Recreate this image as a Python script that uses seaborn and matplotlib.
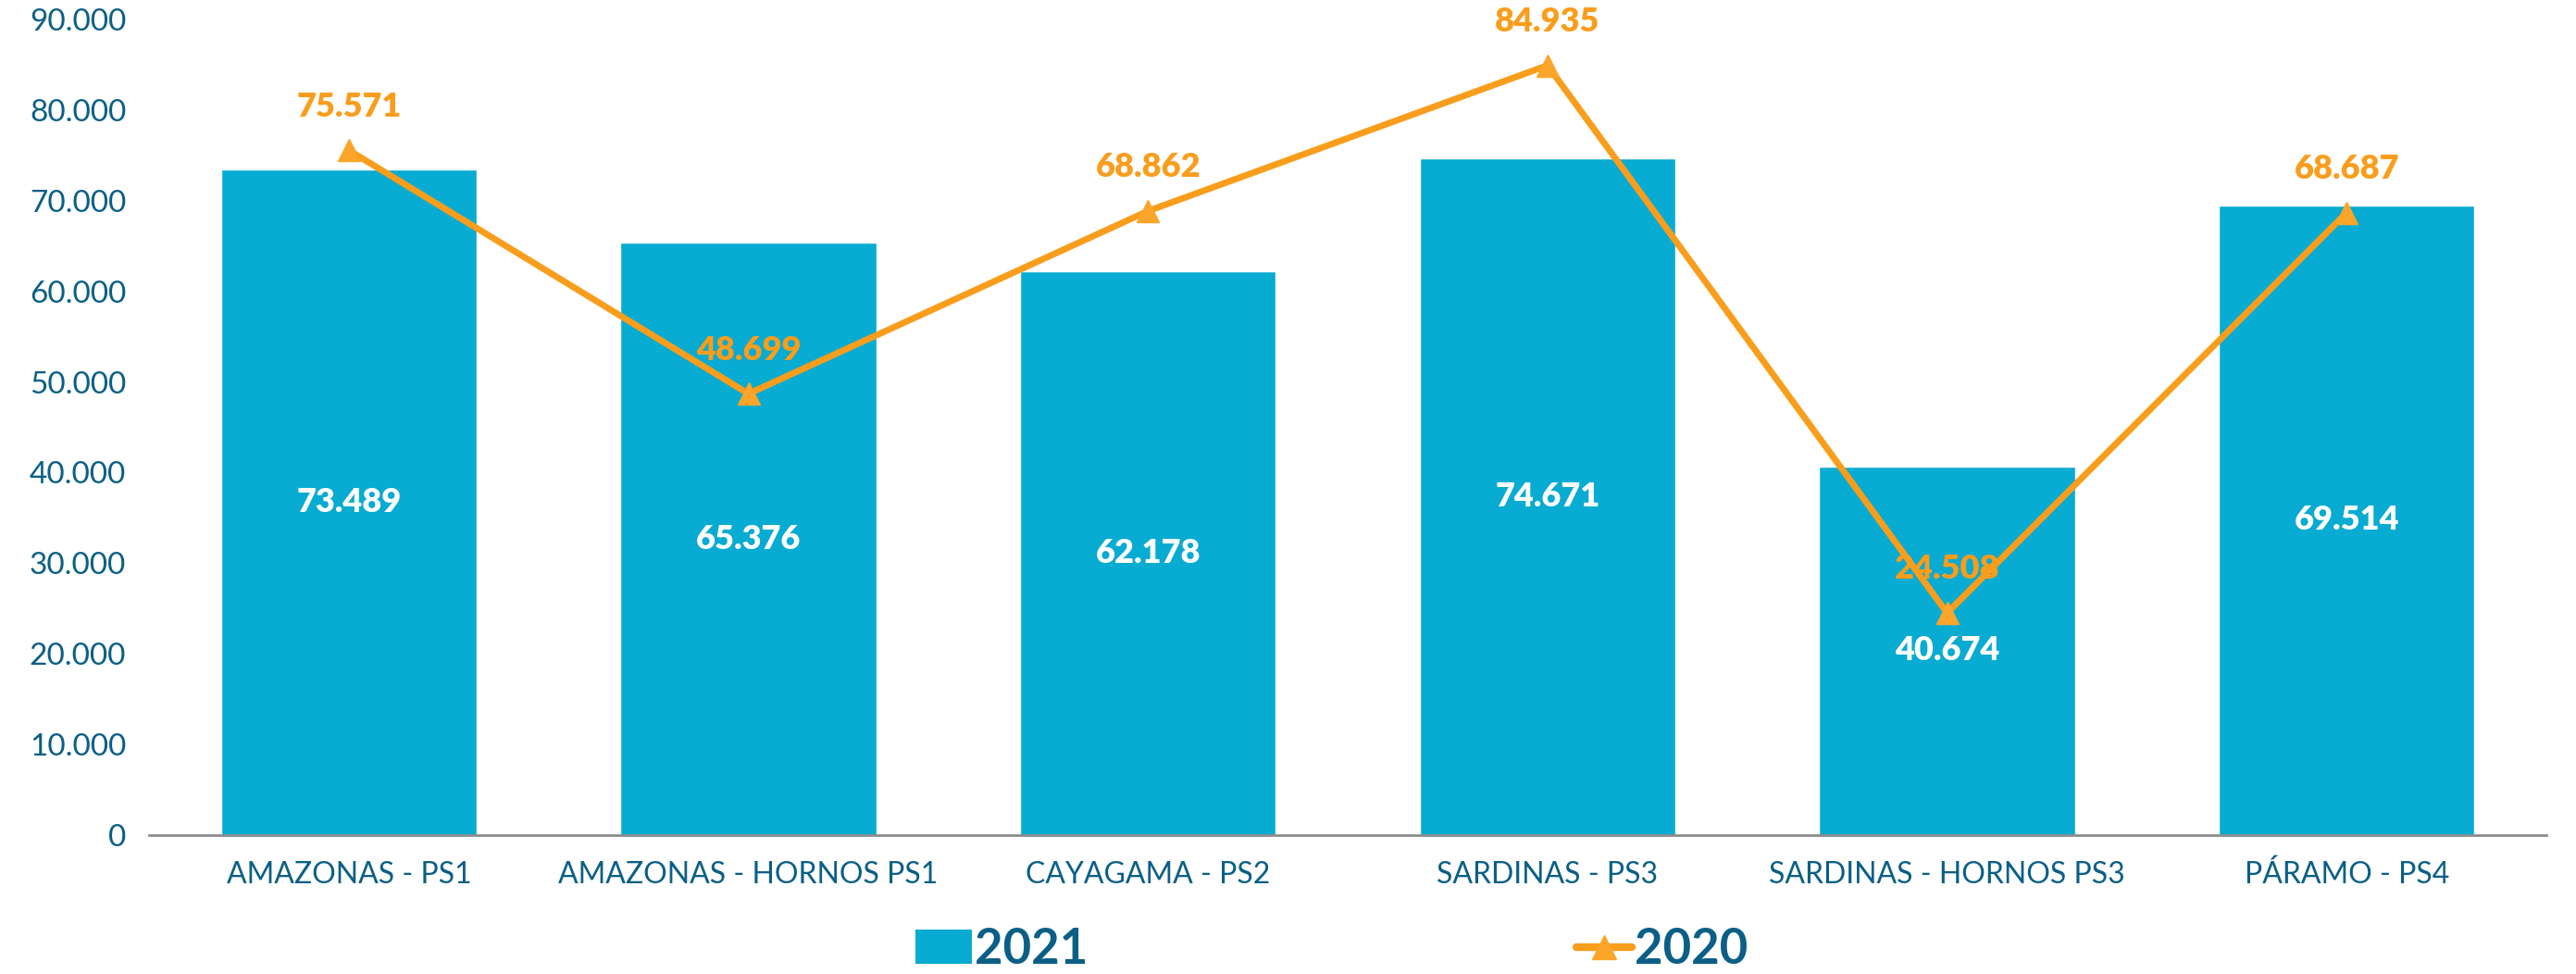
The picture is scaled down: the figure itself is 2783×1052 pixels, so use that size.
import numpy as np
import pandas as pd
import matplotlib
matplotlib.use("Agg")
import matplotlib.pyplot as plt
import seaborn as sns
from matplotlib.ticker import FuncFormatter, FixedLocator
from matplotlib.patches import Patch
from matplotlib.lines import Line2D

# --- data ---
categories = ["AMAZONAS - PS1", "AMAZONAS - HORNOS PS1", "CAYAGAMA - PS2",
              "SARDINAS - PS3", "SARDINAS - HORNOS PS3", "PÁRAMO - PS4"]
values_2021 = [73489, 65376, 62178, 74671, 40674, 69514]
values_2020 = [75571, 48699, 68862, 84935, 24508, 68687]

# --- style ---
sns.set_theme(style="white")
plt.rcParams['font.family'] = ['Lato', 'DejaVu Sans']

BAR = "#08ABD1"
ORANGE = "#F99D1C"
TXT = "#0B5F86"

def dotfmt(v):
    return f"{int(round(v)):,}".replace(",", ".")

df = pd.DataFrame({"cat": categories, "v2021": values_2021, "v2020": values_2020})

fig = plt.figure(figsize=(27.83, 10.52), dpi=100)
ax = fig.add_axes([0.0579, 0.1426, 0.9306, 0.8374])

sns.barplot(data=df, x="cat", y="v2021", color=BAR, width=0.64, saturation=1,
            ax=ax, zorder=2)
x = np.arange(len(categories))
ax.plot(x, df["v2020"], color=ORANGE, lw=5, marker="^", markersize=17,
        markerfacecolor="#FBA52A", markeredgecolor="#FBA52A", zorder=3)

# white labels centered in bars
for i, v in enumerate(values_2021):
    ax.text(i, v / 2, dotfmt(v), ha="center", va="center", color="white",
            fontsize=26, fontweight="heavy", zorder=4)

# orange labels above line points
for i, v in enumerate(values_2020):
    ax.annotate(dotfmt(v), (i, v), xytext=(0, 34), textcoords="offset points",
                ha="center", va="center", color=ORANGE, fontsize=26,
                fontweight="heavy", zorder=5)

ax.set_ylim(0, 90000)
ax.set_xlim(-0.5, len(categories) - 0.5)
ax.yaxis.set_major_locator(FixedLocator(np.arange(0, 90001, 10000)))
ax.yaxis.set_major_formatter(FuncFormatter(lambda v, p: dotfmt(v)))
ax.tick_params(axis="y", length=0, labelsize=24, labelcolor=TXT, pad=18)
ax.tick_params(axis="x", length=0, labelsize=23, labelcolor=TXT, pad=20)
ax.set_xlabel("")
ax.set_ylabel("")

# boundary tick marks on x axis
ax.set_xticks(np.arange(-0.5, len(categories)), minor=True)
ax.tick_params(axis="x", which="minor", length=12, width=2, color="#8C8C8C",
               direction="out")

for s in ["top", "right", "left"]:
    ax.spines[s].set_visible(False)
ax.spines["bottom"].set_color("#8C8C8C")
ax.spines["bottom"].set_linewidth(2)
ax.spines["bottom"].set_zorder(6)

handles = [Patch(facecolor=BAR, edgecolor="none", label="2021"),
           Line2D([0], [0], color=ORANGE, lw=6, marker="^", markersize=19,
                  markerfacecolor="#FBA52A", markeredgecolor="#FBA52A", label="2020")]
leg = fig.legend(handles=handles, loc="center", bbox_to_anchor=(0.517, 0.025),
                 ncol=2, frameon=False, columnspacing=10.0, handlelength=1.15,
                 handletextpad=0.05, prop={"size": 38, "weight": "bold"})
for t in leg.get_texts():
    t.set_color(TXT)

fig.savefig("out.png", dpi=100)
